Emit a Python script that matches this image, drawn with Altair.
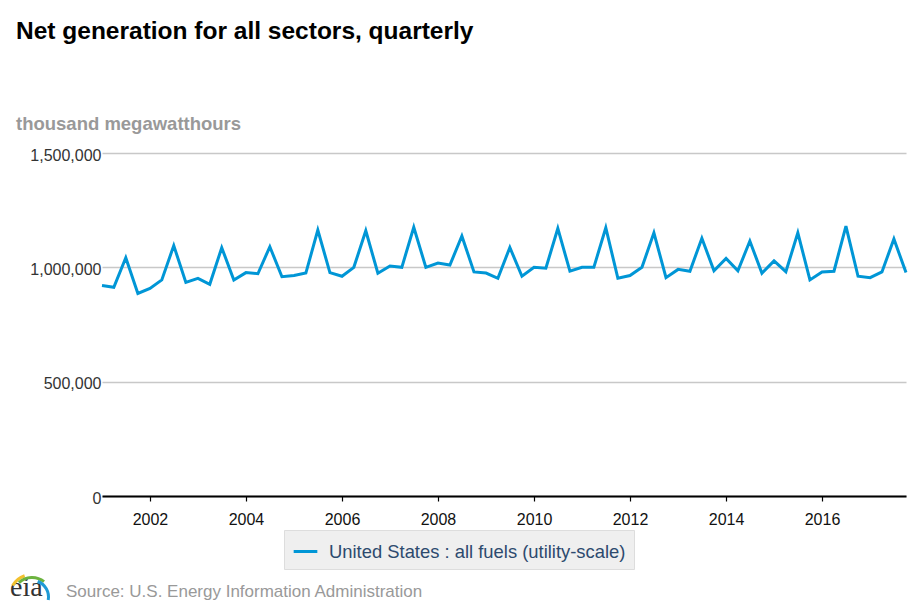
import altair as alt
import pandas as pd

years = list(range(2001, 2018))
quarter_months = ["01", "04", "07", "10"]
values = [
    921000, 913000, 1042000, 886000,
    908000, 945000, 1095000, 934000,
    952000, 926000, 1086000, 945000,
    977000, 972000, 1090000, 959000,
    964000, 975000, 1163000, 977000,
    961000, 1000000, 1160000, 974000,
    1006000, 1000000, 1175000, 1000000,
    1019000, 1010000, 1137000, 980000,
    975000, 952000, 1087000, 961000,
    1000000, 996000, 1170000, 983000,
    1000000, 1000000, 1173000, 952000,
    964000, 1000000, 1151000, 955000,
    991000, 983000, 1127000, 985000,
    1039000, 985000, 1115000, 974000,
    1028000, 981000, 1151000, 945000,
    980000, 983000, 1180000, 961000,
    955000, 980000, 1124000, 977000,
]
series_name = "United States : all fuels (utility-scale)"
y_ticks = [0, 500000, 1000000, 1500000]
x_tick_years = [2002, 2004, 2006, 2008, 2010, 2012, 2014, 2016]

dates = [f"{y}-{m}-01" for y in years for m in quarter_months]
df = pd.DataFrame({"date": dates, "value": values, "series": series_name})

FONT = "Liberation Sans, Arial, Helvetica, sans-serif"

line = alt.Chart(df).mark_line(strokeWidth=3, clip=False).encode(
    x=alt.X(
        "date:T",
        scale=alt.Scale(type="utc", domain=["2001-01-01", "2017-10-01"], nice=False),
        axis=alt.Axis(
            title=None,
            values=[alt.DateTime(year=y, month=1, date=1, utc=True) for y in x_tick_years],
            format="%Y",
            grid=False,
            domainColor="#000000",
            domainWidth=2,
            tickColor="#000000",
            tickWidth=1.2,
            tickSize=5,
            labelPadding=10,
            labelFontSize=16,
            labelColor="#111111",
        ),
    ),
    y=alt.Y(
        "value:Q",
        scale=alt.Scale(domain=[0, 1500000], nice=False),
        axis=alt.Axis(
            title=None,
            values=y_ticks,
            format=",.0f",
            domain=False,
            ticks=False,
            labelPadding=1,
            labelFontSize=16,
            labelColor="#333333",
            labelOffset=2,
            gridColor="#c8c8c8",
            gridWidth=1.5,
        ),
    ),
    color=alt.Color(
        "series:N",
        scale=alt.Scale(range=["#0096d6"]),
        legend=alt.Legend(
            title=None,
            orient="none",
            legendX=182,
            legendY=377,
            fillColor="#efefef",
            strokeColor="#dddddd",
            padding=8,
            symbolType="stroke",
            symbolStrokeWidth=3,
            symbolSize=560,
            labelFontSize=18.4,
            labelColor="#2d4a6e",
            labelOffset=10,
            labelLimit=500,
        ),
    ),
)

one = pd.DataFrame({"k": [0]})

def txt(s, x, y, size, color, weight="normal", font=FONT):
    return alt.Chart(one).mark_text(
        align="left", baseline="alphabetic", fontSize=size, fontWeight=weight,
        color=color, font=font,
    ).encode(x=alt.value(x), y=alt.value(y), text=alt.value(s))

title = txt("Net generation for all sectors, quarterly", -86, -114, 24.5, "#000000", "bold")
ytitle = txt("thousand megawatthours", -86, -23, 18.5, "#999999", "bold")
source = txt("Source: U.S. Energy Information Administration", -36, 444, 17, "#999999")
logo = txt("eia", -92, 443, 28, "#333333", font="Liberation Serif, DejaVu Serif, serif")

def arc(color, r1, r2, t1, t2):
    return alt.Chart(one).mark_arc(
        radius=r2, radius2=r1, theta=t1, theta2=t2, color=color
    ).encode(x=alt.value(-70), y=alt.value(444))

arcs = [
    arc("#f2c12e", 21, 24, 5.25, 5.95),
    arc("#6cb33f", 18, 21, 5.55, 6.95),
    arc("#1e9ad6", 15, 18, 0.35, 1.75),
]

chart = alt.layer(line, title, ytitle, source, logo, *arcs).properties(
    width=804,
    height=343,
    autosize=alt.AutoSizeParams(type="none"),
    padding={"left": 94, "top": 145, "right": 4, "bottom": 108},
).configure(font=FONT).configure_view(stroke=None)

chart.save("out.html", embed_options={"renderer": "svg", "actions": False})
